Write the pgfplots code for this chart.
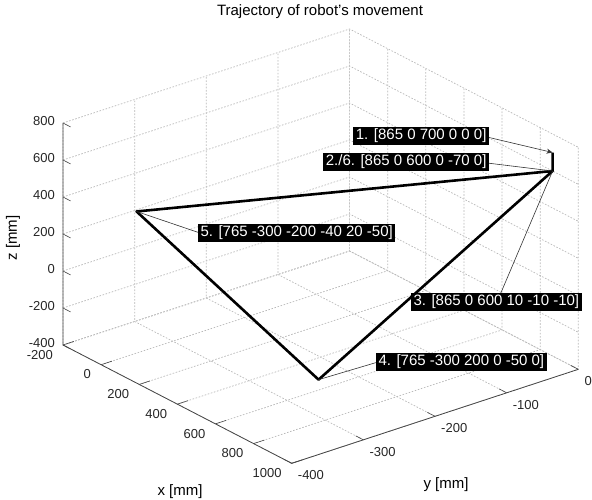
\documentclass[border=0pt]{standalone}
\usepackage{pgfplots}
\pgfplotsset{compat=1.18}
\usepackage{fontspec}
\setmainfont{Liberation Sans}
\usetikzlibrary{calc,arrows.meta}
\newcommand\lblfont{\fontsize{15}{17}\selectfont}
\begin{document}
\begin{tikzpicture}[
  box/.style={fill=black, text=white, font=\lblfont, inner sep=2.5pt, outer sep=0pt},
  ln/.style={gray!40!black, line width=0.6pt},
  arr/.style={ln, {Stealth[length=6pt,width=5pt]}-},
  gr/.style={dash pattern=on 1.6pt off 1.6pt, gray!55, line width=0.7pt},
]
\begin{axis}[
  x={(0.1906pt,-0.0986pt)}, y={(0.7165pt,0.235pt)}, z={(0pt,0.185pt)},
  xmin=-200,xmax=1000,ymin=-400,ymax=0,zmin=-400,zmax=800,
  xtick={-200,0,...,1000}, ytick={-400,-300,...,0}, ztick={-400,-200,...,800},
  axis line style={draw=none},
  major tick length=0pt,
  tick label style={font=\fontsize{13}{15}\selectfont, text=black!85, inner sep=0pt},
  xticklabel style={anchor=north east, xshift=-10pt, yshift=-5pt},
  yticklabel style={anchor=north west, xshift=6pt, yshift=-7pt},
  zticklabel style={anchor=east, xshift=-8pt, yshift=2pt},
  /pgf/number format/assume math mode=true,
  /pgf/number format/1000 sep={},
  clip=false,
]
\coordinate (P0) at (axis cs:-200,-400,-400);
\pgfplotsinvokeforeach{-200,0,200,400,600,800,1000}{
  \draw[gr] (axis cs:#1,-400,-400) -- (axis cs:#1,0,-400) -- (axis cs:#1,0,800);
}
\pgfplotsinvokeforeach{-400,-300,-200,-100,0}{
  \draw[gr] (axis cs:1000,#1,-400) -- (axis cs:-200,#1,-400) -- (axis cs:-200,#1,800);
}
\pgfplotsinvokeforeach{-400,-200,0,200,400,600,800}{
  \draw[gr] (axis cs:-200,-400,#1) -- (axis cs:-200,0,#1) -- (axis cs:1000,0,#1);
}
\draw[gray!55!black, line width=0.8pt] (axis cs:-200,-400,800) -- (axis cs:-200,-400,-400) -- (axis cs:1000,-400,-400) -- (axis cs:1000,0,-400);
\pgfplotsinvokeforeach{-200,0,200,400,600,800,1000}{
  \draw[gray!55!black, line width=0.6pt] (axis cs:#1,-400,-400) -- (axis cs:#1,-385,-400);
}
\pgfplotsinvokeforeach{-400,-300,-200,-100,0}{
  \draw[gray!55!black, line width=0.6pt] (axis cs:1000,#1,-400) -- (axis cs:960,#1,-400);
}
\pgfplotsinvokeforeach{-400,-200,0,200,400,600,800}{
  \draw[gray!55!black, line width=0.6pt] (axis cs:-200,-400,#1) -- (axis cs:-160,-400,#1);
}
\addplot3[black, line width=2.6pt, line join=round, mark=none] coordinates {
  (865,0,700) (865,0,600) (765,-300,-200) (-190,-300,200) (865,0,600)
};
\draw[arr] (axis cs:865,0,700) -- ($(P0)+(424pt,208pt)$);
\draw[ln] (axis cs:865,0,600) -- ($(P0)+(424pt,182pt)$);
\draw[ln] (axis cs:865,0,600) -- ($(P0)+(437pt,50pt)$);
\draw[ln] (axis cs:765,-300,-200) -- ($(P0)+(315pt,-17pt)$);
\draw[ln] (axis cs:-190,-300,200) -- ($(P0)+(137pt,112pt)$);
\node[box, anchor=east] (b1) at ($(P0)+(426pt,209pt)$) {1. [865 0 700 0 0 0]};
\node[box, anchor=east] (b2) at ($(P0)+(426pt,183pt)$) {2./6. [865 0 600 0 -70 0]};
\node[box, anchor=west] (b5) at ($(P0)+(135pt,112pt)$) {5. [765 -300 -200 -40 20 -50]};
\node[box, anchor=west] (b3) at ($(P0)+(348pt,43pt)$) {3. [865 0 600 10 -10 -10]};
\node[box, anchor=west] (b4) at ($(P0)+(313pt,-17pt)$) {4. [765 -300 200 0 -50 0]};
\node[font=\fontsize{15}{18}\selectfont] at ($(P0)+(257pt,333pt)$) {Trajectory of robot's movement};
\node[font=\lblfont] at ($(P0)+(117pt,-147pt)$) {x [mm]};
\node[font=\lblfont] at ($(P0)+(383pt,-140pt)$) {y [mm]};
\node[font=\lblfont, rotate=90] at ($(P0)+(-50pt,107pt)$) {z [mm]};
\end{axis}
\pgfresetboundingbox
\path ($(P0)+(-63pt,-155pt)$) rectangle ($(P0)+(529pt,345pt)$);
\end{tikzpicture}
\end{document}
